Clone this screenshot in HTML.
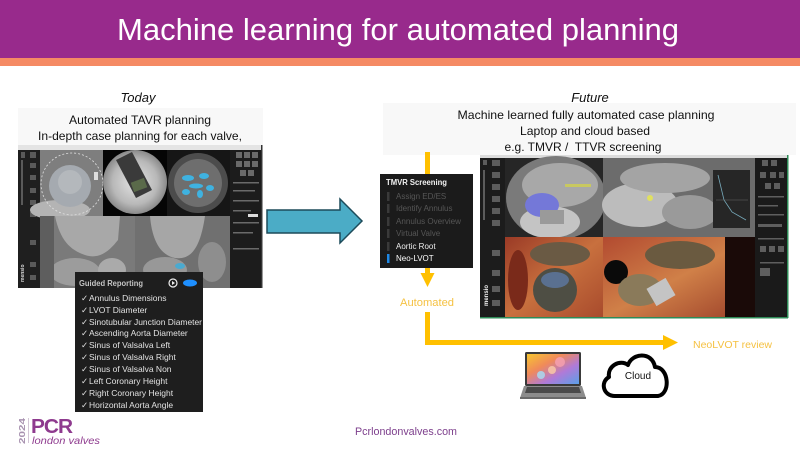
<!DOCTYPE html>
<html><head><meta charset="utf-8"><style>
html,body{margin:0;padding:0;background:#fff;}
#s{position:relative;width:800px;height:450px;overflow:hidden;background:#fff;}
svg{position:absolute;left:0;top:0;}
text{font-family:"Liberation Sans",sans-serif;}
</style></head><body><div id="s">
<svg width="800" height="450" viewBox="0 0 800 450" xmlns="http://www.w3.org/2000/svg">
<defs>
<radialGradient id="fl" cx="0.5" cy="0.5" r="0.5"><stop offset="0" stop-color="#e4e4e4"/><stop offset="0.7" stop-color="#b8b8b8"/><stop offset="1" stop-color="#8a8a8a"/></radialGradient>
<linearGradient id="scr" x1="0" y1="0" x2="1" y2="1"><stop offset="0" stop-color="#f7c630"/><stop offset="0.35" stop-color="#f08a5a"/><stop offset="0.65" stop-color="#b07ad8"/><stop offset="1" stop-color="#5aa0e8"/></linearGradient>
<linearGradient id="heart1" x1="0" y1="0" x2="1" y2="1"><stop offset="0" stop-color="#9a3a26"/><stop offset="0.5" stop-color="#c8703e"/><stop offset="1" stop-color="#a84a2c"/></linearGradient>
<linearGradient id="heart2" x1="0" y1="0" x2="1" y2="1"><stop offset="0" stop-color="#b24a30"/><stop offset="0.5" stop-color="#d08048"/><stop offset="1" stop-color="#9a3e28"/></linearGradient>
</defs>

<!-- Title bar -->
<rect x="0" y="0" width="800" height="58" fill="#982a8c"/>
<rect x="0" y="58" width="800" height="8" fill="#f58a64"/>
<text x="398" y="40" font-size="31" fill="#fff" text-anchor="middle" textLength="562" lengthAdjust="spacingAndGlyphs">Machine learning for automated planning</text>

<!-- Left header -->
<text x="138" y="102" font-size="13" font-style="italic" fill="#111" text-anchor="middle">Today</text>
<rect x="18" y="108" width="245" height="37" fill="#f8f8f8"/>
<text x="140" y="124" font-size="12" fill="#111" text-anchor="middle" textLength="142" lengthAdjust="spacingAndGlyphs">Automated TAVR planning</text>
<text x="140" y="140" font-size="12" fill="#111" text-anchor="middle" textLength="204" lengthAdjust="spacingAndGlyphs">In-depth case planning for each valve,</text>

<!-- Left screenshot -->
<rect x="18" y="145" width="244" height="5" fill="#e4e4e4"/>
<rect x="18" y="150" width="244" height="138" fill="#151515"/>
<rect x="18" y="150" width="22" height="138" fill="#1f1f1f"/>
<g fill="#5a5a5a">
<rect x="21" y="152" width="4" height="6"/><rect x="30" y="152" width="6" height="6"/>
<rect x="30" y="163" width="6" height="5"/><rect x="30" y="175" width="6" height="5"/>
<rect x="30" y="188" width="6" height="5"/><rect x="30" y="200" width="6" height="5"/>
<rect x="30" y="212" width="6" height="5"/><rect x="30" y="240" width="6" height="5"/>
<rect x="30" y="262" width="6" height="5"/><rect x="30" y="275" width="6" height="5"/>
<rect x="21" y="160" width="2" height="45"/>
</g>
<text transform="translate(24,282) rotate(-90)" font-size="5" font-weight="bold" fill="#ddd">mensio</text>
<!-- img1 -->
<rect x="40" y="150" width="63" height="66" fill="#7e7e7e"/>
<ellipse cx="60" cy="210" rx="30" ry="10" fill="#b4b4b4"/>
<circle cx="70" cy="186" r="21" fill="#a5aab0"/>
<circle cx="70" cy="182" r="12" fill="#b4b8bc"/>
<circle cx="72" cy="184" r="31" fill="none" stroke="#e0e0e0" stroke-width="0.8" stroke-dasharray="2 2"/>
<rect x="94" y="172" width="4" height="8" fill="#ddd"/>
<!-- img2 -->
<rect x="103" y="150" width="64" height="66" fill="#050505"/>
<circle cx="135" cy="182" r="32" fill="url(#fl)"/>
<polygon points="116,160 132,152 152,190 136,198" fill="#3a3a3a"/>
<rect x="132" y="180" width="14" height="10" fill="#5a6a4a" transform="rotate(-20 139 185)"/>
<!-- img3 -->
<rect x="167" y="150" width="63" height="66" fill="#161616"/>
<circle cx="198" cy="183" r="30" fill="#4c4c4c"/>
<circle cx="198" cy="183" r="24" fill="#6e6e6e"/>
<g fill="#3fb2e0">
<ellipse cx="188" cy="178" rx="6" ry="3"/><ellipse cx="204" cy="176" rx="5" ry="3"/>
<ellipse cx="196" cy="186" rx="7" ry="2.5"/><ellipse cx="210" cy="188" rx="4" ry="3"/>
<ellipse cx="186" cy="192" rx="4" ry="3"/><ellipse cx="200" cy="194" rx="3" ry="4"/>
</g>
<!-- right panel -->
<rect x="230" y="150" width="32" height="138" fill="#1c1c1c"/>
<g fill="#6a6a6a">
<rect x="236" y="152" width="6" height="6"/><rect x="244" y="152" width="6" height="6"/><rect x="252" y="152" width="6" height="6"/>
<rect x="236" y="161" width="6" height="6"/><rect x="244" y="161" width="6" height="6"/><rect x="252" y="161" width="6" height="6"/>
<rect x="240" y="170" width="6" height="6"/><rect x="248" y="170" width="6" height="6"/>
<rect x="233" y="182" width="26" height="1.5"/><rect x="233" y="190" width="22" height="1.5"/>
<rect x="233" y="200" width="26" height="1.5"/><rect x="233" y="210" width="18" height="1.5"/>
<rect x="233" y="222" width="26" height="1.5"/><rect x="233" y="232" width="20" height="1.5"/>
<rect x="233" y="248" width="26" height="1.5"/>
</g>
<rect x="248" y="214" width="10" height="3" fill="#ddd"/>
<!-- bottom images -->
<rect x="40" y="216" width="95" height="72" fill="#7a7a7a"/>
<path d="M55 216 C60 240 70 250 85 255 C100 260 110 250 118 240 L120 216Z" fill="#a8a8a8"/>
<ellipse cx="75" cy="272" rx="25" ry="14" fill="#9c9c9c"/>
<ellipse cx="112" cy="270" rx="14" ry="12" fill="#aaaaaa"/>
<rect x="40" y="216" width="14" height="72" fill="#5e5e5e"/>
<rect x="135" y="216" width="95" height="72" fill="#707070"/>
<path d="M150 216 C152 240 160 255 175 258 C190 260 200 250 205 216Z" fill="#a6a6a6"/>
<ellipse cx="165" cy="270" rx="22" ry="13" fill="#989898"/>
<ellipse cx="212" cy="262" rx="14" ry="20" fill="#8e8e8e"/>
<ellipse cx="180" cy="266" rx="5" ry="3" fill="#4aaad0"/>
<rect x="261" y="145" width="1.5" height="143" fill="#333"/>

<!-- Guided Reporting panel -->
<rect x="75" y="272" width="128" height="140" fill="#1e1e1e"/>
<text x="79" y="286" font-size="8" font-weight="bold" fill="#c4c4c4" textLength="64" lengthAdjust="spacingAndGlyphs">Guided Reporting</text>
<circle cx="173" cy="283" r="4" fill="none" stroke="#eee" stroke-width="1.2"/>
<polygon points="172,281 172,285 175,283" fill="#eee"/>
<ellipse cx="190" cy="283" rx="7" ry="3.5" fill="#1e8fff"/>
<g font-size="8.5" fill="#e2e2e2">
<text x="81" y="301">✓</text><text x="89" y="301">Annulus Dimensions</text>
<text x="81" y="313">✓</text><text x="89" y="313">LVOT Diameter</text>
<text x="81" y="325">✓</text><text x="89" y="325" textLength="113" lengthAdjust="spacingAndGlyphs">Sinotubular Junction Diameter</text>
<text x="81" y="336">✓</text><text x="89" y="336">Ascending Aorta Diameter</text>
<text x="81" y="348">✓</text><text x="89" y="348">Sinus of Valsalva Left</text>
<text x="81" y="360">✓</text><text x="89" y="360">Sinus of Valsalva Right</text>
<text x="81" y="372">✓</text><text x="89" y="372">Sinus of Valsalva Non</text>
<text x="81" y="384">✓</text><text x="89" y="384">Left Coronary Height</text>
<text x="81" y="396">✓</text><text x="89" y="396">Right Coronary Height</text>
<text x="81" y="408">✓</text><text x="89" y="408">Horizontal Aorta Angle</text>
</g>

<!-- Blue arrow -->
<polygon points="267,210 340,210 340,199 362,221 340,243 340,233 267,233" fill="#4bacc6" stroke="#1d4b5a" stroke-width="1.5" stroke-linejoin="miter"/>

<!-- Right header -->
<text x="590" y="102" font-size="13" font-style="italic" fill="#111" text-anchor="middle">Future</text>
<rect x="383" y="103" width="413" height="52" fill="#f8f8f8"/>
<text x="586" y="119" font-size="12" fill="#111" text-anchor="middle" textLength="257" lengthAdjust="spacingAndGlyphs">Machine learned fully automated case planning</text>
<text x="585" y="135" font-size="12" fill="#111" text-anchor="middle" textLength="130" lengthAdjust="spacingAndGlyphs">Laptop and cloud based</text>
<text x="583" y="151" font-size="12" fill="#111" text-anchor="middle" xml:space="preserve">e.g. TMVR /  TTVR screening</text>

<!-- Right screenshot -->
<rect x="480" y="155" width="308" height="3" fill="#dcdcdc"/>
<rect x="480" y="158" width="308" height="160" fill="#121212"/>
<rect x="480" y="158" width="25" height="160" fill="#1c1c1c"/>
<g fill="#5c5c5c">
<rect x="483" y="160" width="4" height="5"/><rect x="492" y="160" width="8" height="6"/>
<rect x="492" y="172" width="8" height="6"/><rect x="492" y="184" width="8" height="6"/>
<rect x="492" y="196" width="8" height="6"/><rect x="492" y="208" width="8" height="6"/>
<rect x="492" y="220" width="8" height="6"/><rect x="492" y="250" width="8" height="6"/>
<rect x="492" y="270" width="8" height="6"/><rect x="492" y="286" width="8" height="6"/>
<rect x="492" y="300" width="8" height="6"/>
<rect x="483" y="170" width="2" height="50"/>
</g>
<text transform="translate(488,306) rotate(-90)" font-size="6" font-weight="bold" fill="#eee">mensio</text>
<!-- TL -->
<rect x="505" y="158" width="98" height="79" fill="#262626"/>
<ellipse cx="556" cy="198" rx="50" ry="42" fill="#7a7a7a"/>
<ellipse cx="560" cy="185" rx="38" ry="22" fill="#a8a8a8"/>
<ellipse cx="550" cy="222" rx="30" ry="16" fill="#c4c4c4"/>
<ellipse cx="542" cy="205" rx="17" ry="12" fill="#7478d8"/>
<rect x="540" y="210" width="24" height="14" fill="#9a9a9a"/>
<rect x="565" y="184" width="26" height="3" fill="#c8c860"/>
<!-- TR -->
<rect x="603" y="158" width="152" height="79" fill="#6c6c6c"/>
<ellipse cx="640" cy="205" rx="38" ry="22" fill="#bcbcbc"/>
<ellipse cx="665" cy="178" rx="45" ry="15" fill="#a4a4a4"/>
<ellipse cx="690" cy="212" rx="28" ry="17" fill="#9a9a9a"/>
<circle cx="650" cy="198" r="3" fill="#e0e060"/>
<rect x="713" y="170" width="37" height="58" fill="#262626"/>
<polyline points="718,175 724,200 732,212 746,220" fill="none" stroke="#7ab" stroke-width="0.8"/>
<line x1="716" y1="200" x2="748" y2="200" stroke="#666" stroke-width="0.5"/>
<!-- right panel -->
<rect x="755" y="158" width="33" height="160" fill="#1a1a1a"/>
<g fill="#5e5e5e">
<rect x="762" y="160" width="6" height="6"/><rect x="771" y="160" width="6" height="6"/>
<rect x="760" y="172" width="6" height="6"/><rect x="770" y="172" width="6" height="6"/><rect x="779" y="172" width="5" height="6"/>
<rect x="765" y="183" width="6" height="6"/><rect x="774" y="183" width="6" height="6"/>
<rect x="758" y="196" width="26" height="1.5"/><rect x="758" y="205" width="20" height="1.5"/>
<rect x="758" y="214" width="26" height="1.5"/><rect x="758" y="224" width="24" height="3"/>
<rect x="758" y="238" width="26" height="1.5"/>
<rect x="760" y="246" width="6" height="6"/><rect x="769" y="246" width="6" height="6"/><rect x="778" y="246" width="6" height="6"/>
<rect x="760" y="262" width="24" height="1.5"/><rect x="760" y="268" width="10" height="8"/>
</g>
<!-- BL -->
<rect x="505" y="237" width="98" height="81" fill="url(#heart1)"/>
<ellipse cx="560" cy="254" rx="30" ry="12" fill="#6a5a44"/>
<ellipse cx="555" cy="290" rx="22" ry="22" fill="#4e4e44"/>
<ellipse cx="555" cy="280" rx="14" ry="8" fill="#5a7090"/>
<ellipse cx="518" cy="280" rx="10" ry="30" fill="#7a2a1a"/>
<!-- BR -->
<rect x="603" y="237" width="152" height="81" fill="url(#heart2)"/>
<ellipse cx="680" cy="255" rx="35" ry="14" fill="#6a5a40"/>
<ellipse cx="616" cy="272" rx="12" ry="12" fill="#0a0a0a"/>
<ellipse cx="640" cy="290" rx="22" ry="16" fill="#8a7a5a"/>
<rect x="650" y="282" width="22" height="20" fill="#c4c4c4" transform="rotate(-30 661 292)"/>
<rect x="725" y="237" width="30" height="81" fill="#1a0a08"/>
<rect x="787" y="155" width="1.5" height="163" fill="#2e8b57"/>
<rect x="480" y="317" width="308" height="1.5" fill="#2e8b57"/>

<!-- Yellow flow arrows -->
<rect x="425" y="152" width="5" height="23" fill="#ffc000"/>
<rect x="425" y="267" width="5" height="8" fill="#ffc000"/>
<polygon points="420.5,273 434.5,273 427.5,287" fill="#ffc000"/>
<text x="427" y="306" font-size="11" fill="#f5c142" text-anchor="middle" textLength="54" lengthAdjust="spacingAndGlyphs">Automated</text>
<rect x="425" y="312" width="5" height="33" fill="#ffc000"/>
<rect x="425" y="340" width="240" height="5" fill="#ffc000"/>
<polygon points="663,335 663,350 678,342.5" fill="#ffc000"/>
<text x="693" y="348" font-size="10.5" fill="#f5c142" textLength="79" lengthAdjust="spacingAndGlyphs">NeoLVOT review</text>

<!-- TMVR panel -->
<rect x="380" y="174" width="93" height="94" fill="#1b1b1b"/>
<text x="386" y="185" font-size="8" font-weight="bold" fill="#f2f2f2" textLength="61" lengthAdjust="spacingAndGlyphs">TMVR Screening</text>
<g fill="#3a3a3a">
<rect x="387" y="192" width="2.5" height="9"/><rect x="387" y="204" width="2.5" height="9"/>
<rect x="387" y="217" width="2.5" height="9"/><rect x="387" y="229" width="2.5" height="9"/>
<rect x="387" y="242" width="2.5" height="9"/>
</g>
<rect x="387" y="254" width="2.5" height="9" fill="#1e88e5"/>
<g font-size="8">
<text x="396" y="199" fill="#565656">Assign ED/ES</text>
<text x="396" y="211" fill="#565656">Identify Annulus</text>
<text x="396" y="224" fill="#565656" textLength="65" lengthAdjust="spacingAndGlyphs">Annulus Overview</text>
<text x="396" y="236" fill="#565656">Virtual Valve</text>
<text x="396" y="249" fill="#ececec">Aortic Root</text>
<text x="396" y="261" fill="#ffffff">Neo-LVOT</text>
</g>

<!-- Laptop -->
<rect x="525" y="352" width="56" height="34" rx="1.5" fill="#3a3a3a"/>
<rect x="527" y="354" width="52" height="30" fill="url(#scr)"/>
<circle cx="560" cy="362" r="5" fill="#f5a0b0" opacity="0.85"/>
<circle cx="552" cy="370" r="4" fill="#f8c8a8" opacity="0.85"/>
<circle cx="541" cy="375" r="4" fill="#a8d8f0" opacity="0.85"/>
<polygon points="524,386 582,386 586,398 520,398" fill="#8c8c8c"/>
<polygon points="527,387 579,387 581,393 525,393" fill="#4a4a4a"/>
<rect x="520" y="397" width="66" height="2" fill="#6a6a6a"/>

<!-- Cloud -->
<path d="M615 396 C603 396 600 382 609 377 C607 366 620 359 628 365 C632 353 652 351 655 367 C669 367 671 394 658 396 Z" fill="#fff" stroke="#000" stroke-width="4" stroke-linejoin="round"/>
<text x="638" y="379" font-size="10" fill="#111" text-anchor="middle">Cloud</text>

<!-- Footer -->
<text x="406" y="435" font-size="10.7" fill="#7d3f8c" text-anchor="middle" textLength="102" lengthAdjust="spacingAndGlyphs">Pcrlondonvalves.com</text>
<text transform="translate(25,444) rotate(-90)" font-size="8.5" font-weight="bold" fill="#a892b0" textLength="26" lengthAdjust="spacingAndGlyphs">2024</text>
<rect x="28" y="418" width="0.8" height="25" fill="#c8b8cc"/>
<text x="31" y="433" font-size="20" font-weight="bold" fill="#8e3a8e" letter-spacing="-1" textLength="41" lengthAdjust="spacingAndGlyphs">PCR</text>
<text x="32" y="444" font-size="10.5" font-style="italic" fill="#8e3a8e" textLength="68" lengthAdjust="spacingAndGlyphs">london valves</text>
</svg>
</div></body></html>
